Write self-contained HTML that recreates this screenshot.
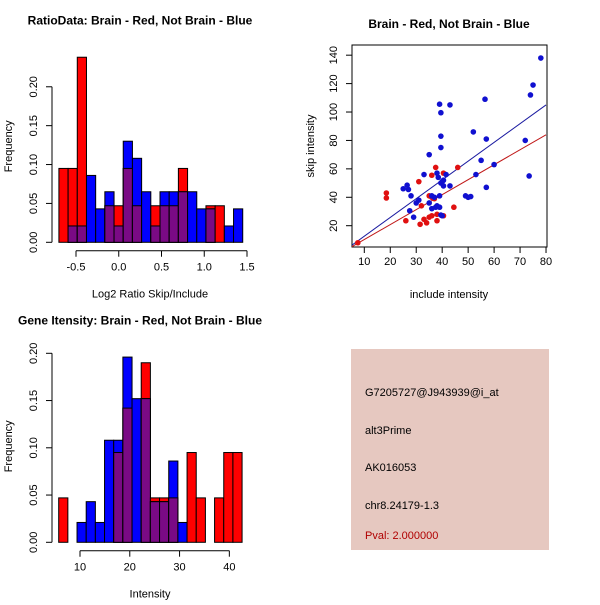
<!DOCTYPE html>
<html><head><meta charset="utf-8"><style>
body{margin:0;background:#fff;}
svg text{font-family:"Liberation Sans",sans-serif;}
</style></head><body>
<svg id="s" width="600" height="600" xmlns="http://www.w3.org/2000/svg">
<rect x="0" y="0" width="600" height="600" fill="#fff"/>
<g id="g1"></g>
<g id="g2"></g>
<g id="g3"></g>
<g>
<rect x="351" y="349" width="198" height="201" fill="#e6c8c0"/>
<text x="365" y="396" font-size="11">G7205727@J943939@i_at</text>
<text x="365" y="434" font-size="11">alt3Prime</text>
<text x="365" y="471" font-size="11">AK016053</text>
<text x="365" y="509" font-size="11">chr8.24179-1.3</text>
<text x="365" y="539" font-size="11" fill="#b00000">Pval: 2.000000</text>
</g>
</svg>
<script>
// Ratio histogram data
const ratioBinStart = -0.70, ratioBinWidth = 0.1075;
const ratioRed  = [0.095,0.095,0.238,0,0,0.047,0.047,0.095,0.047,0,0.047,0.047,0.047,0.095,0,0,0.047,0.047,0,0];
const ratioBlue = [0,0.021,0.021,0.086,0.043,0.065,0.021,0.13,0.108,0.065,0.021,0.065,0.065,0.065,0.065,0.043,0.043,0,0.021,0.043];
const ratioXTicks = [-0.5,0,0.5,1,1.5];
const ratioXLabels = ["-0.5","0.0","0.5","1.0","1.5"];
const ratioYTicks = [0,0.05,0.1,0.15,0.2];
const ratioYLabels = ["0.00","0.05","0.10","0.15","0.20"];
// Intensity histogram data
const intBinStart = 5.72, intBinWidth = 1.842;
const intRed  = [0.047,0,0,0,0,0,0.095,0.142,0,0.19,0.047,0.047,0.047,0,0.095,0.047,0,0.047,0.095,0.095];
const intBlue = [0,0,0.021,0.043,0.021,0.108,0.108,0.196,0.152,0.152,0.043,0.043,0.086,0.021,0,0,0,0,0,0];
const intXTicks = [10,20,30,40];
const intXLabels = ["10","20","30","40"];
const intYTicks = [0,0.05,0.1,0.15,0.2];
const intYLabels = ["0.00","0.05","0.10","0.15","0.20"];
// Scatter data
const blueX = [78,75,74,56.5,39,43,39.5,52,39.5,57,72,39.5,35,55,60,41.5,33,53,38,73.5,38.5,40.5,39.5,40,40.5,43,26.5,25,27,57,28,36,37,39,31,49,50,51,30,35,38,39,37.5,36,27.5,29,39.5,40];
const blueY = [138,119,112,109,105.5,105,99.5,86,83,81,80,75,70,66,63,56,56,56,57,55,54,52,50,51,48,48,48.5,46,45.5,47,41,41,40,41,38,41,40,40.5,36,36,34,33,33,32,30.5,26,27.5,27];
const redX = [7.5,18.5,18.5,31,37.5,36,40.5,46,35,36,32,26,31.5,33,34,35,36,38,38,40.5,44.5,37];
const redY = [8,43,39.5,51,61,55.5,57,61,41,40,34,23.5,21,24.5,22,26,27,28,23.5,27,33,39];
const scXTicks = [10,20,30,40,50,60,70,80];
const scYTicks = [20,40,60,80,100,120,140];
const blueFit = [-0.6,1.32];  // intercept, slope
const redFit = [-0.27,1.053];

const NS="http://www.w3.org/2000/svg";
function mk(parent,tag,attrs,txt){const e=document.createElementNS(NS,tag);for(const k in attrs)e.setAttribute(k,attrs[k]);if(txt!==undefined)e.textContent=txt;parent.appendChild(e);return e;}

function hist(g,o){
  const sx=v=>o.x0+(v-o.xv0)*o.xs, sy=v=>o.y0-v*o.ys;
  for(let i=0;i<o.red.length;i++){
    const a=o.binStart+i*o.binW, xl=sx(a), w=o.binW*o.xs;
    const r=o.red[i], b=o.blue[i], m=Math.min(r,b);
    if(r>0){const e=mk(g,'rect',{x:xl,y:sy(r),width:w,height:r*o.ys,fill:'#ff0000',stroke:'#000','stroke-width':1});
      }
    if(b>0){const e=mk(g,'rect',{x:xl,y:sy(b),width:w,height:b*o.ys,fill:'#0000ff',stroke:'#000','stroke-width':1});
      }
    if(m>0){const e=mk(g,'rect',{x:xl,y:sy(m),width:w,height:m*o.ys,fill:'#7a0a85',stroke:'#000','stroke-width':1});
      }
  }
  const ya=mk(g,'line',{x1:o.yax,x2:o.yax,y1:sy(o.yt[0]),y2:sy(o.yt[o.yt.length-1]),stroke:'#000'});
  
  o.yt.forEach((v,i)=>{mk(g,'line',{x1:o.yax-6,x2:o.yax,y1:sy(v),y2:sy(v),stroke:'#000'});
    const t=mk(g,'text',{x:0,y:0,'font-size':11,'text-anchor':'middle',transform:`translate(${o.yax-15},${sy(v)}) rotate(-90)`},o.yl[i]);
    });
  const xa=mk(g,'line',{x1:sx(o.xt[0]),x2:sx(o.xt[o.xt.length-1]),y1:o.xay,y2:o.xay,stroke:'#000'});
  
  o.xt.forEach((v,i)=>{mk(g,'line',{x1:sx(v),x2:sx(v),y1:o.xay,y2:o.xay+6,stroke:'#000'});
    const t=mk(g,'text',{x:sx(v),y:o.xay+20,'font-size':11,'text-anchor':'middle'},o.xl[i]);
    });
  const tt=mk(g,'text',{x:140,y:o.y0-218,'font-size':12,'font-weight':'bold','text-anchor':'middle'},o.title);
  
  const xt=mk(g,'text',{x:150,y:o.xay+47,'font-size':11,'text-anchor':'middle'},o.xlab);
  
  const yt=mk(g,'text',{x:0,y:0,'font-size':11,'text-anchor':'middle',transform:`translate(12,${o.y0-96}) rotate(-90)`},'Frequency');
  
}
hist(document.getElementById('g1'),{x0:76,xv0:-0.5,xs:85.5,y0:242.3,ys:777.6,binStart:ratioBinStart,binW:ratioBinWidth,red:ratioRed,blue:ratioBlue,
  xt:ratioXTicks,xl:ratioXLabels,yt:ratioYTicks,yl:ratioYLabels,yax:52,xay:250.7,title:'RatioData: Brain - Red, Not Brain - Blue',xlab:'Log2 Ratio Skip/Include'});
hist(document.getElementById('g3'),{x0:80,xv0:10,xs:4.978,y0:542.3,ys:945,binStart:intBinStart,binW:intBinWidth,red:intRed,blue:intBlue,
  xt:intXTicks,xl:intXLabels,yt:intYTicks,yl:intYLabels,yax:52,xay:550.7,title:'Gene Itensity: Brain - Red, Not Brain - Blue',xlab:'Intensity'});

(function(){
  const g=document.getElementById('g2');
  const sx=v=>364.3+(v-10)*2.596, sy=v=>225.7-(v-20)*1.421;
  const L=352,R=547,T=45,B=247;
  mk(g,'defs',{}).innerHTML='<clipPath id="cp"><rect x="352" y="45" width="195" height="202"/></clipPath>';
  const box=mk(g,'rect',{x:L,y:T,width:R-L,height:B-T,fill:'none',stroke:'#000'});
  
  const fits=[[blueFit,'#1a1aa0','blue-fit-line'],[redFit,'#c01818','red-fit-line']];
  fits.forEach(f=>{const xa=5,xb=80;const l=mk(g,'line',{x1:sx(xa),y1:sy(f[0][0]+f[0][1]*xa),x2:sx(xb),y2:sy(f[0][0]+f[0][1]*xb),stroke:f[1],'clip-path':'url(#cp)'});
    });
  redX.forEach((x,i)=>{const c=mk(g,'circle',{cx:sx(x),cy:sy(redY[i]),r:2.8,fill:'#e01010'});
    });
  blueX.forEach((x,i)=>{const c=mk(g,'circle',{cx:sx(x),cy:sy(blueY[i]),r:2.8,fill:'#1010d0'});
    });
  scXTicks.forEach(v=>{mk(g,'line',{x1:sx(v),x2:sx(v),y1:B,y2:B+6,stroke:'#000'});
    const t=mk(g,'text',{x:sx(v),y:B+18,'font-size':11,'text-anchor':'middle'},String(v));
    });
  scYTicks.forEach(v=>{mk(g,'line',{x1:L-6,x2:L,y1:sy(v),y2:sy(v),stroke:'#000'});
    const t=mk(g,'text',{x:0,y:0,'font-size':11,'text-anchor':'middle',transform:`translate(${L-15},${sy(v)}) rotate(-90)`},String(v));
    });
  const tt=mk(g,'text',{x:449,y:28,'font-size':12,'font-weight':'bold','text-anchor':'middle'},'Brain - Red, Not Brain - Blue');
  
  const xt=mk(g,'text',{x:449,y:298,'font-size':11,'text-anchor':'middle'},'include intensity');
  
  const yt=mk(g,'text',{x:0,y:0,'font-size':11,'text-anchor':'middle',transform:'translate(314,146) rotate(-90)'},'skip intensity');
  
})();
</script>
</body></html>
